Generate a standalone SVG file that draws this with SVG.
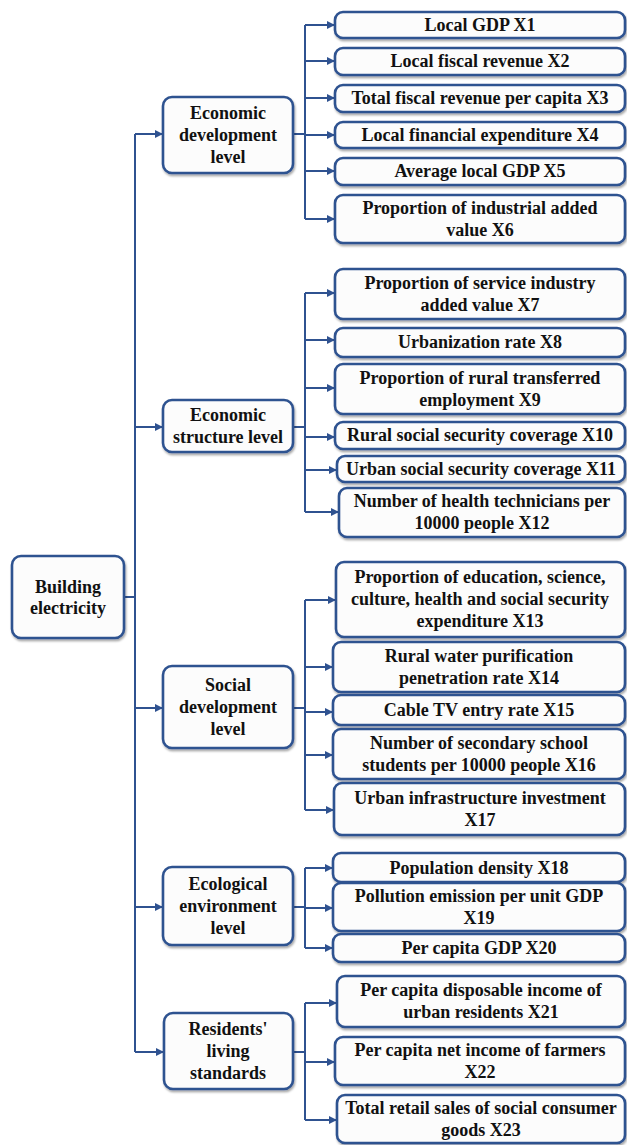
<svg xmlns="http://www.w3.org/2000/svg" width="627" height="1145" viewBox="0 0 627 1145" font-family="'Liberation Serif', 'DejaVu Serif', serif">
<style>
.box{fill:#fcfcfc;stroke:#2f5290;stroke-width:2.6;filter:url(#sh)}
.ln{fill:none;stroke:#2f5290;stroke-width:2}
.ar{fill:none;stroke:#2f5290;stroke-width:2;marker-end:url(#ah)}
text{font-family:'Liberation Serif','DejaVu Serif',serif;font-weight:700;font-size:18px;fill:#111;text-anchor:middle}
</style>
<defs>
<filter id="sh" x="-10%" y="-20%" width="120%" height="150%">
<feDropShadow dx="1" dy="2" stdDeviation="1.3" flood-color="#000" flood-opacity="0.35"/>
</filter>
<marker id="ah" viewBox="0 0 10 10" refX="10" refY="5" markerWidth="9" markerHeight="8" markerUnits="userSpaceOnUse" orient="auto">
<path d="M0,0 L10,5 L0,10 z" fill="#2f5290"/>
</marker>
</defs>

<g id="connectors">
<path class="ln" d="M124 597 H135 M135 134 V1052"/>
<path class="ar" d="M135 134 H163"/>
<path class="ar" d="M135 427 H163"/>
<path class="ar" d="M135 708 H163"/>
<path class="ar" d="M135 907 H163"/>
<path class="ar" d="M135 1052 H164"/>

<path class="ln" d="M293 134 H305 M305 25 V219"/>
<path class="ar" d="M305 25 H335"/>
<path class="ar" d="M305 61 H335"/>
<path class="ar" d="M305 98 H335"/>
<path class="ar" d="M305 135 H335"/>
<path class="ar" d="M305 171 H335"/>
<path class="ar" d="M305 219 H335"/>

<path class="ln" d="M293 427 H305 M305 293 V512"/>
<path class="ar" d="M305 293 H335"/>
<path class="ar" d="M305 340 H335"/>
<path class="ar" d="M305 388 H335"/>
<path class="ar" d="M305 437 H335"/>
<path class="ar" d="M305 470 H337"/>
<path class="ar" d="M305 512 H339"/>

<path class="ln" d="M293 708 H305 M305 600 V810"/>
<path class="ar" d="M305 600 H336"/>
<path class="ar" d="M305 667 H333"/>
<path class="ar" d="M305 712 H333"/>
<path class="ar" d="M305 755 H333"/>
<path class="ar" d="M305 810 H334"/>

<path class="ln" d="M293 907 H305 M305 868 V948"/>
<path class="ar" d="M305 868 H333"/>
<path class="ar" d="M305 908 H333"/>
<path class="ar" d="M305 948 H333"/>

<path class="ln" d="M293 1052 H305 M305 1003 V1120"/>
<path class="ar" d="M305 1003 H337"/>
<path class="ar" d="M305 1062 H335"/>
<path class="ar" d="M305 1120 H337"/>
</g>

<g id="root"><rect class="box" x="12" y="556" width="112" height="82" rx="9"/>
<text x="68" y="593">Building</text><text x="68" y="614">electricity</text></g>

<g id="economic-development"><rect class="box" x="163" y="97" width="130" height="76" rx="9"/>
<text x="228" y="119">Economic</text><text x="228" y="141">development</text><text x="228" y="163">level</text></g>
<g id="economic-structure"><rect class="box" x="163" y="400" width="130" height="52" rx="9"/>
<text x="228" y="421">Economic</text><text x="228" y="443">structure level</text></g>
<g id="social-development"><rect class="box" x="163" y="666" width="130" height="82" rx="9"/>
<text x="228" y="691">Social</text><text x="228" y="713">development</text><text x="228" y="735">level</text></g>
<g id="ecological-environment"><rect class="box" x="163" y="867" width="130" height="78" rx="9"/>
<text x="228" y="890">Ecological</text><text x="228" y="912">environment</text><text x="228" y="934">level</text></g>
<g id="residents-living"><rect class="box" x="164" y="1013" width="129" height="76" rx="9"/>
<text x="228" y="1035">Residents'</text><text x="228" y="1057">living</text><text x="228" y="1079">standards</text></g>

<g id="x1"><rect class="box" x="335" y="12" width="290" height="26" rx="8"/><text x="480" y="31">Local GDP X1</text></g>
<g id="x2"><rect class="box" x="335" y="48" width="290" height="27" rx="8"/><text x="480" y="67">Local fiscal revenue X2</text></g>
<g id="x3"><rect class="box" x="335" y="85" width="290" height="27" rx="8"/><text x="480" y="104">Total fiscal revenue per capita X3</text></g>
<g id="x4"><rect class="box" x="335" y="122" width="290" height="26" rx="8"/><text x="480" y="141">Local financial expenditure X4</text></g>
<g id="x5"><rect class="box" x="335" y="158" width="290" height="27" rx="8"/><text x="480" y="177">Average local GDP X5</text></g>
<g id="x6"><rect class="box" x="335" y="195" width="290" height="48" rx="8"/><text x="480" y="214">Proportion of industrial added</text><text x="480" y="236">value X6</text></g>

<g id="x7"><rect class="box" x="335" y="269" width="290" height="50" rx="8"/><text x="480" y="289">Proportion of service industry</text><text x="480" y="311">added value X7</text></g>
<g id="x8"><rect class="box" x="335" y="328" width="290" height="29" rx="8"/><text x="480" y="348">Urbanization rate X8</text></g>
<g id="x9"><rect class="box" x="335" y="364" width="290" height="50" rx="8"/><text x="480" y="384">Proportion of rural transferred</text><text x="480" y="406">employment X9</text></g>
<g id="x10"><rect class="box" x="335" y="422" width="290" height="27" rx="8"/><text x="480" y="441">Rural social security coverage X10</text></g>
<g id="x11"><rect class="box" x="337" y="456" width="288" height="26" rx="8"/><text x="481" y="475">Urban social security coverage X11</text></g>
<g id="x12"><rect class="box" x="339" y="488" width="286" height="49" rx="8"/><text x="482" y="507">Number of health technicians per</text><text x="482" y="529">10000 people X12</text></g>

<g id="x13"><rect class="box" x="336" y="562" width="289" height="75" rx="8"/><text x="480" y="583">Proportion of education, science,</text><text x="480" y="605">culture, health and social security</text><text x="480" y="627">expenditure X13</text></g>
<g id="x14"><rect class="box" x="333" y="642" width="292" height="50" rx="8"/><text x="479" y="662">Rural water purification</text><text x="479" y="684">penetration rate X14</text></g>
<g id="x15"><rect class="box" x="333" y="695" width="292" height="30" rx="8"/><text x="479" y="716">Cable TV entry rate X15</text></g>
<g id="x16"><rect class="box" x="333" y="729" width="292" height="50" rx="8"/><text x="479" y="749">Number of secondary school</text><text x="479" y="771">students per 10000 people X16</text></g>
<g id="x17"><rect class="box" x="334" y="783" width="291" height="52" rx="8"/><text x="480" y="804">Urban infrastructure investment</text><text x="480" y="826">X17</text></g>

<g id="x18"><rect class="box" x="333" y="853" width="292" height="29" rx="8"/><text x="479" y="874">Population density X18</text></g>
<g id="x19"><rect class="box" x="333" y="883" width="292" height="48" rx="8"/><text x="479" y="902">Pollution emission per unit GDP</text><text x="479" y="924">X19</text></g>
<g id="x20"><rect class="box" x="333" y="934" width="292" height="28" rx="8"/><text x="479" y="954">Per capita GDP X20</text></g>

<g id="x21"><rect class="box" x="337" y="976" width="288" height="51" rx="8"/><text x="481" y="996">Per capita disposable income of</text><text x="481" y="1018">urban residents X21</text></g>
<g id="x22"><rect class="box" x="335" y="1037" width="290" height="48" rx="8"/><text x="480" y="1056">Per capita net income of farmers</text><text x="480" y="1078">X22</text></g>
<g id="x23"><rect class="box" x="337" y="1095" width="288" height="48" rx="8"/><text x="481" y="1114">Total retail sales of social consumer</text><text x="481" y="1136">goods X23</text></g>
</svg>
